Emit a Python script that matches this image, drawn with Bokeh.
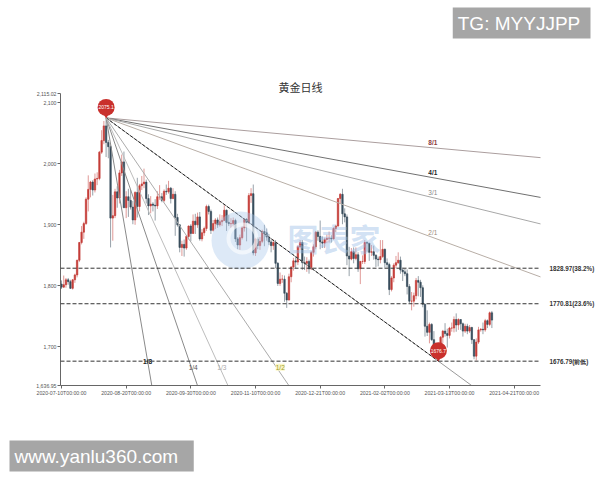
import numpy as np
from bokeh.plotting import figure
from bokeh.models import (Range1d, FixedTicker, LinearAxis, Span, Title,
                          NumeralTickFormatter, ColumnDataSource)
from bokeh.embed import file_html
from bokeh.resources import INLINE
from bokeh.core.properties import value

# ---------------- data ----------------
title_text = "黄金日线"
x_tick_idx = [0, 29, 58, 87, 116, 145, 174, 203]
x_tick_labels = ["2020-07-10T00:00:00", "2020-08-20T00:00:00", "2020-09-30T00:00:00",
                 "2020-11-10T00:00:00", "2020-12-21T00:00:00", "2021-02-02T00:00:00",
                 "2021-03-13T00:00:00", "2021-04-21T00:00:00"]
y_ticks = [1636.95, 1700, 1800, 1900, 2000, 2100, 2115.02]

opens = [1803, 1798, 1802, 1810, 1807, 1796, 1810, 1818, 1842, 1871, 1888, 1902, 1942, 1958, 1970, 1957,
         1975, 1976, 2019, 2038, 2062, 2035, 2028, 1911, 1915, 1954, 1944, 1985, 2003, 1928, 1946, 1940, 1929, 1908, 1953, 1930, 1964,
         1967, 1970, 1943, 1931, 1934, 1932, 1931, 1946, 1946, 1940, 1955, 1954, 1960, 1943, 1950, 1912, 1900, 1863, 1868, 1862, 1881, 1898,
         1886, 1906, 1900, 1913, 1877, 1887, 1894, 1930, 1922, 1891, 1902, 1908, 1900, 1905, 1907, 1924, 1904, 1902, 1902, 1907, 1877, 1867,
         1879, 1895, 1909, 1904, 1948, 1951, 1854, 1877, 1866, 1873, 1889, 1887, 1880, 1872, 1866, 1871, 1837, 1804, 1811, 1811, 1788,
         1777, 1815, 1831, 1841, 1839, 1864, 1871, 1838, 1837, 1840, 1828, 1855, 1864, 1888, 1881, 1872, 1870, 1876, 1878, 1878, 1877, 1894,
         1898, 1943, 1950, 1918, 1913, 1849, 1844, 1856, 1845, 1851, 1828, 1840, 1840, 1871, 1870, 1855, 1856, 1850, 1844, 1843,
         1848, 1860, 1838, 1835, 1794, 1813, 1834, 1838, 1842, 1826, 1823, 1820, 1799, 1775, 1775, 1784, 1809, 1806, 1797, 1770,
         1734, 1724, 1737, 1712, 1697, 1700, 1683, 1716, 1726, 1722, 1719, 1731, 1731, 1745, 1736, 1745, 1738, 1726, 1734, 1726, 1732, 1712, 1685,
         1708, 1728, 1729, 1728, 1743, 1737, 1756]
highs = [1809, 1817, 1813, 1813, 1810, 1811, 1820, 1843, 1872, 1898, 1905, 1945, 1981, 1972, 1973, 1984,
         1986, 2021, 2055, 2070, 2075.1, 2039, 2030, 1949, 1959, 1963, 1990, 2015, 2020, 1955, 1959, 1957, 1939, 1955, 1977, 1967, 1980,
         1992, 1974, 1950, 1947, 1937, 1942, 1955, 1965, 1952, 1958, 1966, 1972, 1962, 1960, 1955, 1918, 1901, 1874, 1876, 1883, 1899, 1901,
         1917, 1918, 1920, 1921, 1893, 1897, 1933, 1933, 1925, 1908, 1911, 1912, 1917, 1916, 1932, 1925, 1916, 1911, 1912, 1910, 1880, 1884,
         1898, 1910, 1911, 1952, 1960, 1966, 1879, 1880, 1880, 1892, 1900, 1894, 1885, 1875, 1876, 1875, 1839, 1822, 1818, 1817, 1790,
         1820, 1832, 1846, 1848, 1866, 1875, 1875, 1848, 1847, 1843, 1857, 1868, 1890, 1891, 1907, 1881, 1879, 1884, 1889, 1883, 1896, 1900,
         1944, 1952, 1959, 1927, 1917, 1864, 1862, 1863, 1863, 1855, 1841, 1850, 1875, 1873, 1870, 1867, 1866, 1852, 1848, 1875,
         1875, 1861, 1845, 1838, 1816, 1837, 1849, 1855, 1848, 1830, 1828, 1827, 1803, 1790, 1789, 1813, 1816, 1810, 1801, 1770,
         1760, 1740, 1739, 1726, 1705, 1702, 1718, 1728, 1739, 1730, 1733, 1740, 1750, 1755, 1747, 1745, 1740, 1738, 1738, 1736, 1733, 1713, 1714,
         1733, 1731, 1740, 1746, 1745, 1758, 1759]
lows = [1795, 1797, 1797, 1802, 1795, 1794, 1805, 1814, 1839, 1868, 1877, 1900, 1922, 1945, 1948, 1953,
        1965, 1973, 2016, 2032, 2011, 2009, 1863, 1874, 1911, 1928, 1935, 1980, 1928, 1911, 1913, 1925, 1901, 1900, 1912, 1922, 1957,
        1960, 1935, 1916, 1919, 1922, 1907, 1926, 1941, 1937, 1937, 1949, 1951, 1935, 1942, 1882, 1897, 1855, 1849, 1848, 1859, 1876, 1873,
        1885, 1885, 1895, 1874, 1873, 1882, 1890, 1917, 1885, 1889, 1893, 1895, 1897, 1898, 1907, 1890, 1898, 1895, 1896, 1872, 1860, 1859,
        1876, 1889, 1873, 1901, 1936, 1850, 1849, 1860, 1859, 1870, 1865, 1874, 1867, 1855, 1859, 1829, 1800, 1800, 1805, 1774, 1764,
        1776, 1806, 1825, 1829, 1834, 1859, 1826, 1826, 1823, 1820, 1826, 1848, 1860, 1874, 1860, 1862, 1862, 1870, 1871, 1871, 1876, 1888,
        1897, 1935, 1901, 1904, 1834, 1816, 1842, 1837, 1842, 1823, 1803, 1836, 1836, 1856, 1841, 1849, 1843, 1831, 1832, 1837,
        1846, 1830, 1830, 1785, 1791, 1806, 1829, 1836, 1820, 1808, 1816, 1786, 1772, 1760, 1766, 1778, 1783, 1782, 1765, 1717,
        1718, 1706, 1710, 1690, 1687, 1677, 1683, 1706, 1717, 1699, 1714, 1725, 1724, 1725, 1728, 1728, 1717, 1723, 1721, 1723, 1705, 1680, 1678,
        1705, 1725, 1721, 1725, 1731, 1734, 1731]
closes = [1798, 1802, 1810, 1807, 1796, 1810, 1818, 1842, 1871, 1888, 1902, 1942, 1958, 1970, 1957, 1975,
          1976, 2019, 2038, 2062, 2035, 2028, 1911, 1915, 1954, 1944, 1985, 2003, 1928, 1946, 1940, 1929, 1908, 1953, 1930, 1964, 1967,
          1970, 1943, 1931, 1934, 1932, 1931, 1946, 1946, 1940, 1955, 1954, 1960, 1943, 1950, 1912, 1900, 1863, 1868, 1862, 1881, 1898, 1886,
          1906, 1900, 1913, 1877, 1887, 1894, 1930, 1922, 1891, 1902, 1908, 1900, 1905, 1907, 1924, 1904, 1902, 1902, 1907, 1877, 1867, 1879,
          1895, 1909, 1904, 1948, 1951, 1854, 1877, 1866, 1873, 1889, 1887, 1880, 1872, 1866, 1871, 1837, 1804, 1811, 1811, 1788, 1777,
          1815, 1831, 1841, 1839, 1864, 1871, 1838, 1837, 1840, 1828, 1855, 1864, 1888, 1881, 1872, 1870, 1876, 1878, 1878, 1877, 1894, 1898,
          1943, 1950, 1918, 1913, 1849, 1844, 1856, 1845, 1851, 1828, 1840, 1840, 1871, 1870, 1855, 1856, 1850, 1844, 1843, 1848,
          1860, 1838, 1835, 1794, 1813, 1834, 1838, 1842, 1826, 1823, 1820, 1799, 1775, 1775, 1784, 1809, 1806, 1797, 1770, 1734,
          1724, 1737, 1712, 1697, 1700, 1683, 1716, 1726, 1722, 1719, 1731, 1731, 1745, 1736, 1745, 1738, 1726, 1734, 1726, 1732, 1712, 1685, 1708,
          1728, 1729, 1728, 1743, 1737, 1756, 1744]

peak_idx, peak_price, peak_text = 20, 2075.1, "2075.1"
low_idx, low_price, low_text = 169, 1676.79, "1676.7"

level_values = [1828.97, 1770.81, 1676.79]
level_labels = ["1828.97(38.2%)", "1770.81(23.6%)", "1676.79(前低)"]

upper_names = ["8/1", "4/1", "3/1", "2/1"]
upper_mult = [1 / 8, 1 / 4, 1 / 3, 1 / 2]
lower_names = ["1/8", "1/4", "1/3", "1/2"]
lower_mult = [8, 4, 3, 2]

banner_top = "TG: MYYJJPP"
banner_bottom = "www.yanlu360.com"

# ---------------- styling ----------------
W, H = 600, 480
BL, BR, BT, BB = 60, 60, 93, 95
FW, FH = W - BL - BR, H - BT - BB
X0, X1 = -0.45, 214.8
Y0, Y1 = 1636.95, 2115.02
ppu = FH / (Y1 - Y0)          # pixels per price unit
ppx = FW / (X1 - X0)          # pixels per bar

UP = "#c23531"
DOWN = "#314656"
PIN = "#c9302c"
FONT = "Liberation Sans"
NB = "\u00a0"

p = figure(width=W, height=H, x_range=Range1d(X0, X1), y_range=Range1d(Y0, Y1),
           output_backend="svg", toolbar_location=None,
           min_border_left=BL, min_border_right=BR, min_border_top=BT, min_border_bottom=BB)
p.outline_line_color = None
p.xgrid.visible = False
p.ygrid.visible = False
p.background_fill_color = "white"
p.border_fill_color = "white"

def banner(text, align, offset):
    return Title(text=text, align=align, offset=offset, standoff=0,
                 text_font=FONT, text_font_size="19px", text_font_style="normal",
                 text_color="white", background_fill_color="#a6a6a6", background_fill_alpha=1.0,
                 padding=5)

def spacer(gap):
    return Title(text=" ", text_font_size="1px", standoff=gap)

# outermost title slot: top-right banner box
p.title = banner(banner_top + NB, "right", -50)
# chart title, nearest to the frame, then an empty spacer
p.add_layout(Title(text=title_text, align="center", standoff=-3,
                   text_font="Noto Sans CJK SC", text_font_size="11px", text_font_style="normal",
                   text_color="#333333"), "above")
p.add_layout(spacer(37), "above")
# bottom-left banner box below a spacer
p.add_layout(spacer(37), "below")
p.add_layout(banner(banner_bottom + NB + NB, "left", -51), "below")

# axes
p.xaxis.ticker = FixedTicker(ticks=x_tick_idx)
p.xaxis.major_label_overrides = {i: t for i, t in zip(x_tick_idx, x_tick_labels)}
p.yaxis.ticker = FixedTicker(ticks=y_ticks)
p.yaxis.formatter = NumeralTickFormatter(format="0,0.[00]")
for ax in (p.xaxis[0], p.yaxis[0]):
    ax.axis_line_color = "#666666"
    ax.major_tick_line_color = "#666666"
    ax.minor_tick_line_color = None
    ax.major_tick_out = 3
    ax.major_tick_in = 0
    ax.major_label_text_font = FONT
    ax.major_label_text_font_size = "5.2px"
    ax.major_label_text_color = "#555555"
    ax.major_label_standoff = 1

# right-side level labels as an axis without line
ax_r = LinearAxis(ticker=FixedTicker(ticks=level_values),
                  major_label_overrides={v: t for v, t in zip(level_values, level_labels)},
                  axis_line_color=None, major_tick_line_color=None, minor_tick_line_color=None,
                  major_label_text_font=FONT, major_label_text_font_size="6.3px",
                  major_label_text_font_style="bold", major_label_text_color="#333333",
                  major_label_standoff=3)
p.add_layout(ax_r, "right")

# candles
o = np.array(opens, float); h = np.array(highs, float)
l = np.array(lows, float); c = np.array(closes, float)
idx = np.arange(len(c))
colors = np.where(c >= o, UP, DOWN)
src = ColumnDataSource(dict(x=idx, h=h, l=l, top=np.maximum(o, c), bottom=np.minimum(o, c), color=colors))
p.segment(x0="x", y0="h", x1="x", y1="l", line_color="color", line_alpha=0.5, line_width=1, source=src)
p.vbar(x="x", width=0.65, top="top", bottom="bottom", fill_color="color", line_color="color",
       line_width=0.6, fill_alpha=0.9, source=src)

# horizontal levels
for v in level_values:
    p.add_layout(Span(location=v, dimension="width", line_color="#333333", line_width=1, line_dash="4 2"))

# Gann fan
k = (peak_price - low_price) / (low_idx - peak_idx)
L = 400
upper_line_colors = ["#ab9e9e", "#707070", "#a8a8a8", "#b8aea6"]
upper_text_colors = ["#8b3a3a", "#222222", "#888888", "#9a8b7d"]
upper_text_styles = ["bold", "bold", "normal", "normal"]
for m, name, lc, tc, ts in zip(upper_mult, upper_names, upper_line_colors, upper_text_colors, upper_text_styles):
    p.line([peak_idx, peak_idx + L], [peak_price, peak_price - k * m * L], line_color=lc, line_width=1)
    lx = low_idx - 2.5
    ly = peak_price - k * m * (lx - peak_idx)
    p.text([lx], [ly], [name], text_color=tc, text_font=value(FONT), text_font_size="6.5px",
           text_font_style=ts, text_align="center", text_baseline="middle", y_offset=-5)

# 1/1 line: gray continuation + dashed trend to the low
p.line([peak_idx, peak_idx + L], [peak_price, peak_price - k * L], line_color="#9a9a9a", line_width=1)
p.line([peak_idx, low_idx], [peak_price, low_price], line_color="#222222", line_width=1, line_dash="3 2")

lower_line_colors = ["#8a8a8a", "#8a8a8a", "#bdbdbd", "#ababab"]
lower_text_colors = ["#222222", "#555555", "#aaaaaa", "#9c9c2e"]
lower_offsets = [(0, 0), (4, 6), (5, 6), (8, 6)]
for m, name, lc, tc, off in zip(lower_mult, lower_names, lower_line_colors, lower_text_colors, lower_offsets):
    p.line([peak_idx, peak_idx + L], [peak_price, peak_price - k * m * L], line_color=lc, line_width=1)
    cx = peak_idx + (peak_price - low_price) / (k * m)
    kw = {}
    if name == "1/2":
        kw = dict(background_fill_color="#fbf7c8", background_fill_alpha=1.0)
    p.text([cx], [low_price], [name], text_color=tc, text_font=value(FONT), text_font_size="6.5px",
           text_font_style="bold" if name == "1/8" else "normal",
           text_align="center", text_baseline="middle", x_offset=off[0], y_offset=off[1], **kw)

# watermark (decorative)
def fx(px):  # frame pixel -> data x
    return X0 + px / ppx
def fy(py):  # frame pixel from top -> data y
    return Y1 - py / ppu
p.scatter([fx(180)], [fy(147)], marker="circle", size=58, fill_color="#a9c8ec", fill_alpha=0.4, line_color=None)
p.scatter([fx(182)], [fy(145)], marker="circle", size=28, fill_color=None, line_color="white", line_alpha=0.6, line_width=4)
p.text([fx(227)], [fy(144)], ["图表家"], text_font=value("Noto Sans CJK SC"), text_font_size="31px",
       text_font_style="bold", text_color="#9bbde6", text_alpha=0.45, text_align="left", text_baseline="middle")

# pins
def pin(xi, price, txt):
    cy = price + 10.5 / ppu
    p.scatter([xi], [price + 4.5 / ppu], marker="inverted_triangle", size=9, fill_color=PIN, line_color=None)
    p.scatter([xi], [cy], marker="circle", size=17, fill_color=PIN, line_color=None)
    p.text([xi], [cy], [txt], text_font=value(FONT), text_font_size="5px", text_color="white",
           text_align="center", text_baseline="middle")

pin(peak_idx, peak_price, peak_text)
pin(low_idx, low_price, low_text)

open("out.html", "w").write(file_html(p, INLINE))
